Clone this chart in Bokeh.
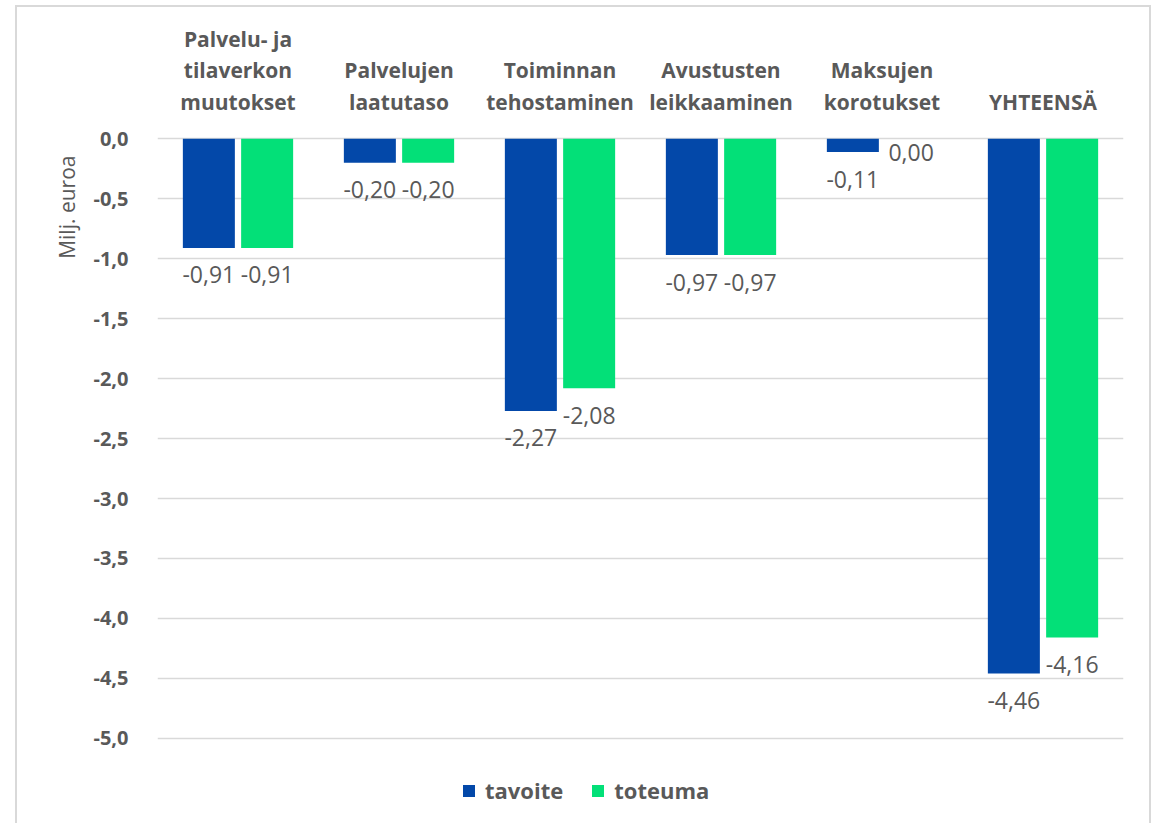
from bokeh.plotting import figure
from bokeh.models import (ColumnDataSource, FactorRange, Range1d, FixedTicker,
                          CustomJSTickFormatter, Legend, LegendItem, Title)
from bokeh.transform import dodge
from bokeh.core.properties import value
from bokeh.embed import file_html
from bokeh.resources import INLINE

# ---------------- data ----------------
categories = ["Palvelu- ja tilaverkon muutokset", "Palvelujen laatutaso",
              "Toiminnan tehostaminen", "Avustusten leikkaaminen",
              "Maksujen korotukset", "YHTEENSÄ"]
category_labels = ["Palvelu- ja\ntilaverkon\nmuutokset", "Palvelujen\nlaatutaso",
                   "Toiminnan\ntehostaminen", "Avustusten\nleikkaaminen",
                   "Maksujen\nkorotukset", "YHTEENSÄ"]
series_names = ["tavoite", "toteuma"]
tavoite = [-0.91, -0.20, -2.27, -0.97, -0.11, -4.46]
toteuma = [-0.91, -0.20, -2.08, -0.97, 0.00, -4.16]
y_ticks = [0.0, -0.5, -1.0, -1.5, -2.0, -2.5, -3.0, -3.5, -4.0, -4.5, -5.0]
y_axis_title = "Milj. euroa"

# ---------------- style ----------------
BLUE = "#0348A9"
GREEN = "#03E078"
TEXT = "#595959"
GRID = "#d9d9d9"
FONT = "Open Sans"


def fmt(v):
    return f"{v:.2f}".replace(".", ",")


def off(v):
    return 27 if v != 0 else 14


src = ColumnDataSource(dict(
    cat=categories,
    cat_label=category_labels,
    tavoite=tavoite,
    toteuma=toteuma,
    lab_t=[fmt(v) for v in tavoite],
    lab_g=[fmt(v) for v in toteuma],
    off_t=[off(v) for v in tavoite],
    off_g=[off(v) for v in toteuma],
))

p = figure(x_range=FactorRange(*categories, range_padding=0),
           y_range=Range1d(-5.7274, 1.0953),
           width=1136, height=818,
           output_backend="svg", toolbar_location=None,
           min_border_left=140, min_border_right=30,
           min_border_top=0, min_border_bottom=0)
p.styles = {"border": "2px solid #d9d9d9", "border-bottom": "none",
            "margin-left": "15px", "margin-top": "5px"}

p.outline_line_color = None
p.xaxis.visible = False
p.xgrid.visible = False
p.ygrid.ticker = FixedTicker(ticks=y_ticks)
p.ygrid.grid_line_color = GRID
p.ygrid.grid_line_width = 1.5

yax = p.yaxis[0]
yax.ticker = FixedTicker(ticks=y_ticks)
yax.formatter = CustomJSTickFormatter(code="return tick.toFixed(1).replace('.', ',');")
yax.axis_line_color = None
yax.major_tick_line_color = None
yax.minor_tick_line_color = None
yax.major_label_standoff = 23
yax.major_label_text_font = FONT
yax.major_label_text_font_size = "20px"
yax.major_label_text_font_style = "bold"
yax.major_label_text_color = TEXT

p.add_layout(Title(text=y_axis_title, align="right", offset=148,
                   text_font=FONT, text_font_size="21px",
                   text_font_style="normal", text_color=TEXT, standoff=19),
             "left")

DX = 0.181
W = 0.323
r1 = p.vbar(x=dodge("cat", -DX, range=p.x_range), top="tavoite", bottom=0,
            width=W, fill_color=BLUE, line_color=None, source=src)
r2 = p.vbar(x=dodge("cat", DX, range=p.x_range), top="toteuma", bottom=0,
            width=W, fill_color=GREEN, line_color=None, source=src)

common = dict(text_align="center", text_baseline="middle",
              text_font=value(FONT), text_font_size="23px", text_color=TEXT,
              source=src)
p.text(x=dodge("cat", -DX, range=p.x_range), y="tavoite", text="lab_t",
       y_offset="off_t", **common)
p.text(x=dodge("cat", DX, range=p.x_range), y="toteuma", text="lab_g",
       y_offset="off_g", **common)

# category titles above the bars
p.text(x="cat", y=0.19, text="cat_label", text_align="center",
       text_baseline="bottom", text_font=value(FONT), text_font_size="21px",
       text_font_style="bold", text_color=TEXT, text_line_height=1.13,
       source=src)

legend = Legend(items=[LegendItem(label=series_names[0], renderers=[r1]),
                       LegendItem(label=series_names[1], renderers=[r2])],
                orientation="horizontal", location=(304, 20),
                border_line_color=None, background_fill_alpha=0,
                padding=0, margin=0, spacing=27,
                glyph_width=15, glyph_height=15, label_standoff=9,
                label_text_font=FONT, label_text_font_size="22px",
                label_text_font_style="bold", label_text_color=TEXT)
p.add_layout(legend)

open("out.html", "w").write(file_html(p, INLINE))
